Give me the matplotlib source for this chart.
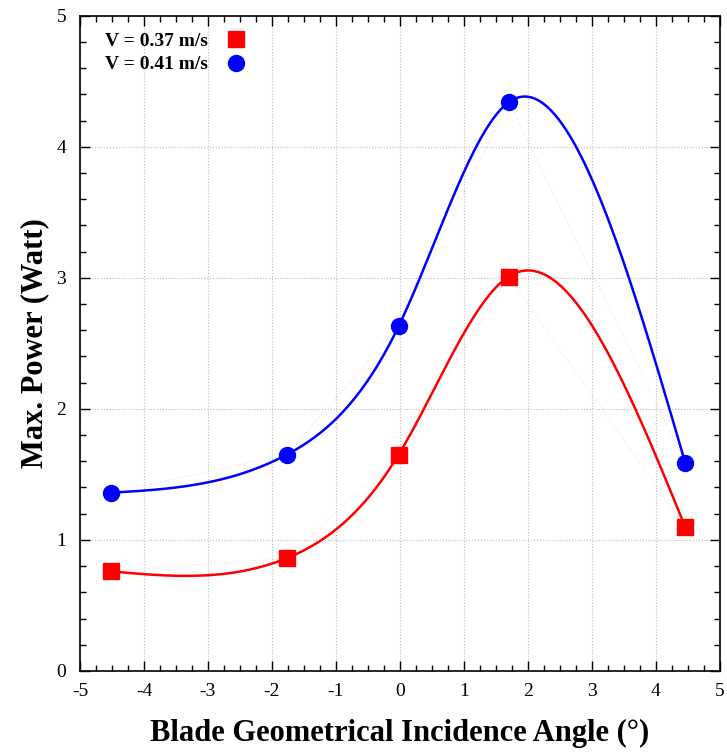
import numpy as np
import matplotlib
matplotlib.use("Agg")
import matplotlib.pyplot as plt
from matplotlib.ticker import MultipleLocator

angle = [-4.52, -1.77, -0.02, 1.70, 4.46]
power_037 = [0.76, 0.86, 1.65, 3.01, 1.10]
power_041 = [1.36, 1.65, 2.63, 4.34, 1.59]
labels = ["V = 0.37 m/s", "V = 0.41 m/s"]


def natural_spline(x, y, n=300):
    # natural cubic spline through the points
    x = np.asarray(x, float)
    y = np.asarray(y, float)
    k = len(x)
    h = np.diff(x)
    A = np.zeros((k, k))
    b = np.zeros(k)
    A[0, 0] = 1
    A[-1, -1] = 1
    for i in range(1, k - 1):
        A[i, i - 1] = h[i - 1]
        A[i, i] = 2 * (h[i - 1] + h[i])
        A[i, i + 1] = h[i]
        b[i] = 6 * ((y[i + 1] - y[i]) / h[i] - (y[i] - y[i - 1]) / h[i - 1])
    M = np.linalg.solve(A, b)
    xs = np.linspace(x[0], x[-1], n)
    idx = np.clip(np.searchsorted(x, xs) - 1, 0, k - 2)
    x0, x1 = x[idx], x[idx + 1]
    hh = x1 - x0
    t0 = x1 - xs
    t1 = xs - x0
    ys = (M[idx] * t0 ** 3 + M[idx + 1] * t1 ** 3) / (6 * hh) \
        + (y[idx] / hh - M[idx] * hh / 6) * t0 \
        + (y[idx + 1] / hh - M[idx + 1] * hh / 6) * t1
    return xs, ys


plt.rcParams['font.family'] = ['Liberation Serif', 'DejaVu Serif']
plt.rcParams['axes.unicode_minus'] = False

fig = plt.figure(figsize=(7.27, 7.53), dpi=100)
ax = fig.add_axes([0.110, 0.109, 0.880, 0.870])

for yv, col, mk, lab in [(power_037, 'red', 's', labels[0]), (power_041, 'blue', 'o', labels[1])]:
    xs, ys = natural_spline(angle, yv)
    ax.plot(angle, yv, ':', color=col, lw=0.8, alpha=0.12)
    ax.plot(xs, ys, '-', color=col, lw=1.8)
    ax.plot(angle, yv, mk, color=col, markersize=11 if mk == 's' else 11.5, label=lab, zorder=5)

ax.set_xlim(-5, 5)
ax.set_ylim(0, 5)
ax.xaxis.set_major_locator(MultipleLocator(1))
ax.xaxis.set_minor_locator(MultipleLocator(0.25))
ax.yaxis.set_major_locator(MultipleLocator(1))
ax.yaxis.set_minor_locator(MultipleLocator(0.2))
ax.tick_params(which='both', direction='in', top=True, right=True, labelsize=14)
ax.tick_params(which='major', length=7, width=1)
ax.tick_params(which='minor', length=4, width=1)
ax.tick_params(axis='x', pad=9)
ax.tick_params(axis='y', pad=10)
ax.grid(True, which='major', linestyle=':', color='#bbbbbb', lw=0.8)
for s in ax.spines.values():
    s.set_linewidth(1.2)

ax.set_xlabel("Blade Geometrical Incidence Angle (°)", fontsize=22, fontweight='bold', labelpad=13)
ax.set_ylabel("Max. Power (Watt)", fontsize=22, fontweight='bold', labelpad=5)

leg = ax.legend(loc='upper left', bbox_to_anchor=(0.014, 1.0), frameon=False, markerfirst=False,
                prop={'weight': 'bold', 'size': 14}, handlelength=1.0,
                handletextpad=0.9, borderaxespad=0.45, labelspacing=0.3,
                markerscale=1.0)

fig.savefig("out.png", dpi=100)
